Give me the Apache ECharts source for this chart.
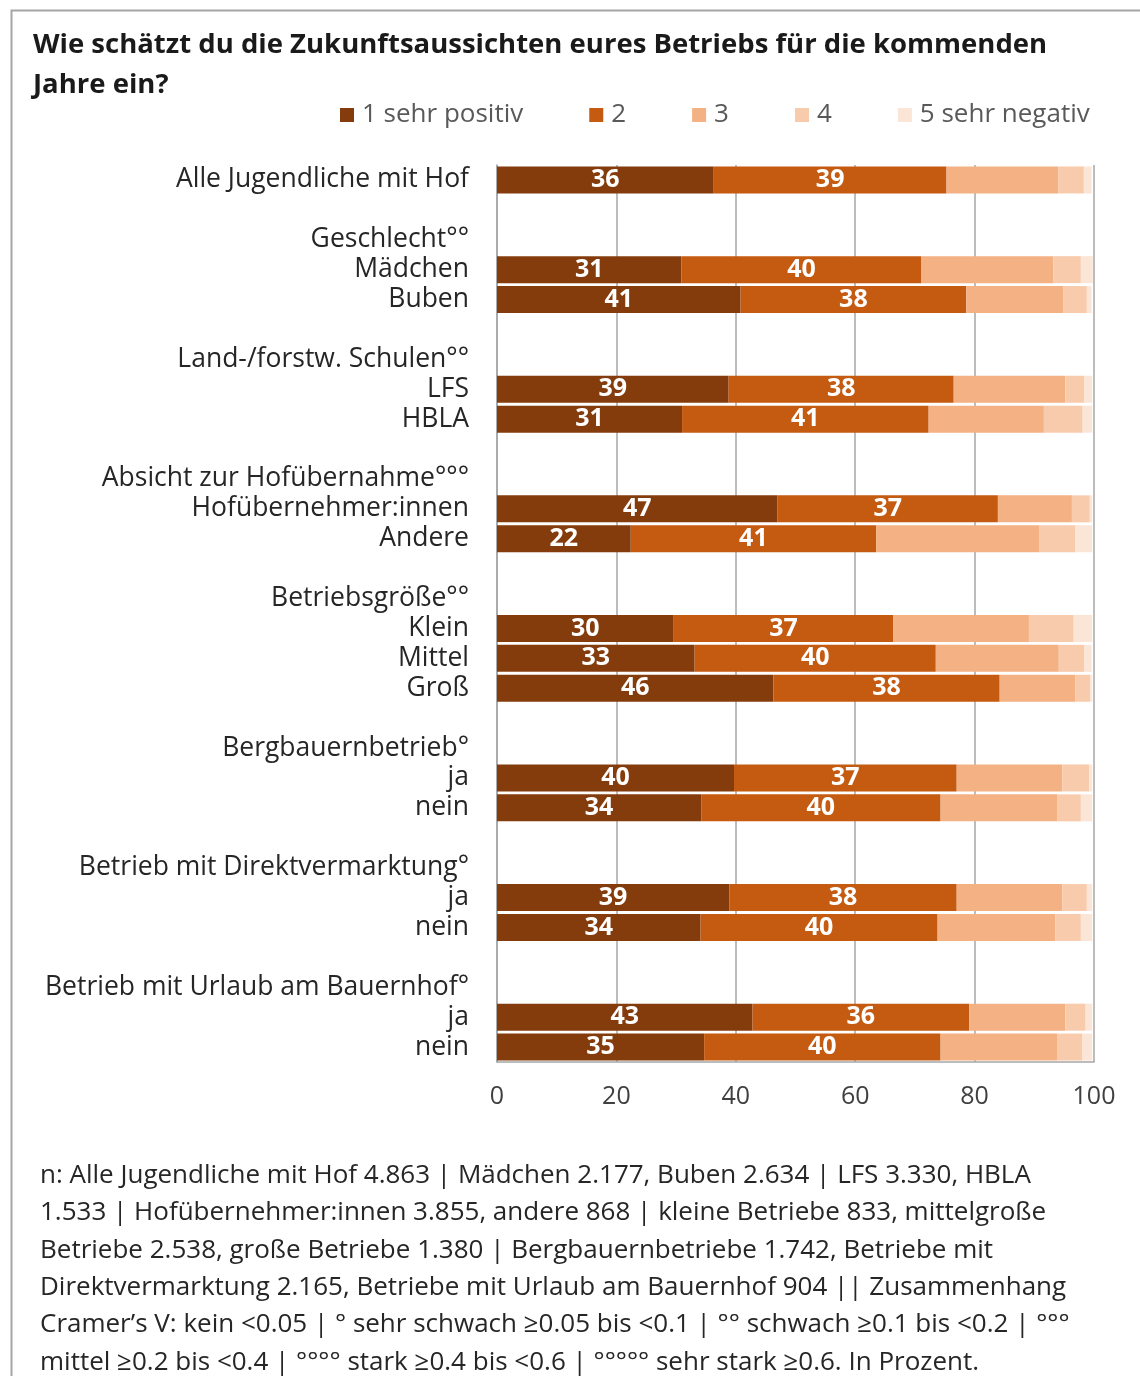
<!DOCTYPE html>
<html>
<head>
<meta charset="utf-8">
<script src="https://cdn.jsdelivr.net/npm/echarts@6/dist/echarts.min.js"></script>
<style>html,body{margin:0;padding:0;background:#fff}#c{width:1140px;height:1376px}</style>
</head>
<body>
<div id="c"></div>
<script>
const categories = ['Alle Jugendliche mit Hof', '', 'Geschlecht°°', 'Mädchen', 'Buben', '', 'Land-/forstw. Schulen°°', 'LFS', 'HBLA', '', 'Absicht zur Hofübernahme°°°', 'Hofübernehmer:innen', 'Andere', '', 'Betriebsgröße°°', 'Klein', 'Mittel', 'Groß', '', 'Bergbauernbetrieb°', 'ja', 'nein', '', 'Betrieb mit Direktvermarktung°', 'ja', 'nein', '', 'Betrieb mit Urlaub am Bauernhof°', 'ja', 'nein'];
const seriesNames = ['1 sehr positiv', '2', '3', '4', '5 sehr negativ'];
const s1 = [36.3, null, null, 30.9, 40.8, null, null, 38.8, 31.0, null, null, 47.0, 22.4, null, null, 29.6, 33.1, 46.3, null, null, 39.7, 34.2, null, null, 38.9, 34.1, null, null, 42.8, 34.7];
const s2 = [39.0, null, null, 40.2, 37.8, null, null, 37.7, 41.3, null, null, 36.9, 41.1, null, null, 36.8, 40.4, 37.9, null, null, 37.3, 40.1, null, null, 38.1, 39.7, null, null, 36.3, 39.6];
const s3 = [18.7, null, null, 22.1, 16.3, null, null, 18.7, 19.3, null, null, 12.4, 27.3, null, null, 22.7, 20.6, 12.7, null, null, 17.7, 19.6, null, null, 17.7, 19.7, null, null, 16.1, 19.5];
const s4 = [4.3, null, null, 4.6, 3.9, null, null, 3.2, 6.5, null, null, 3.0, 6.1, null, null, 7.5, 4.3, 2.5, null, null, 4.5, 3.9, null, null, 4.1, 4.3, null, null, 3.4, 4.2];
const s5 = [1.3, null, null, 2.0, 0.8, null, null, 1.3, 1.6, null, null, 0.4, 2.8, null, null, 3.1, 1.2, 0.3, null, null, 0.5, 1.9, null, null, 0.9, 1.9, null, null, 1.1, 1.7];
const xTicks = [0, 20, 40, 60, 80, 100];
const colors = ['#843C0C', '#C55A11', '#F4B183', '#F8CBAD', '#FBE5D6'];
const titleText = 'Wie schätzt du die Zukunftsaussichten eures Betriebs für die kommenden\nJahre ein?';
const footText = [
  'n: Alle Jugendliche mit Hof 4.863 | Mädchen 2.177, Buben 2.634 | LFS 3.330, HBLA',
  '1.533 | Hofübernehmer:innen 3.855, andere 868 | kleine Betriebe 833, mittelgroße',
  'Betriebe 2.538, große Betriebe 1.380 | Bergbauernbetriebe 1.742, Betriebe mit',
  'Direktvermarktung 2.165, Betriebe mit Urlaub am Bauernhof 904 || Zusammenhang',
  'Cramer’s V: kein <0.05 | ° sehr schwach ≥0.05 bis <0.1 | °° schwach ≥0.1 bis <0.2 | °°°',
  'mittel ≥0.2 bis <0.4 | °°°° stark ≥0.4 bis <0.6 | °°°°° sehr stark ≥0.6. In Prozent.'
].join('\n');

const FONT = '"Open Sans"';
const allData = [s1, s2, s3, s4, s5];
const chart = echarts.init(document.getElementById('c'));
chart.setOption({
  animation: false,
  backgroundColor: '#fff',
  title: [
    { text: titleText, left: 28, top: 20, textStyle: { fontFamily: FONT, fontWeight: 'bold', fontSize: 27.5, lineHeight: 40, color: '#1a1a1a' } },
    { text: footText, left: 35, top: 1152, textStyle: { fontFamily: FONT, fontWeight: 'normal', fontSize: 26, lineHeight: 37.3, color: '#262626' } }
  ],
  legend: {
    left: 335, top: 97, itemWidth: 14, itemHeight: 14, itemGap: 66, icon: 'rect',
    textStyle: { fontFamily: FONT, fontSize: 26, color: '#595959', padding: [0, 0, 0, 3] },
    data: seriesNames
  },
  graphic: [{ type: 'rect', left: 9, top: 8, shape: { width: 1200, height: 1450 }, style: { fill: 'none', stroke: '#A6A6A6', lineWidth: 2 }, silent: true }],
  grid: { left: 497, right: 46, top: 165, bottom: 314, containLabel: false },
  xAxis: {
    type: 'value', min: 0, max: 100, interval: 20,
    axisLine: { show: true, lineStyle: { color: '#A6A6A6', width: 1.5 } },
    axisTick: { show: false },
    splitLine: { show: true, lineStyle: { color: '#A6A6A6', width: 1.5 } },
    axisLabel: { fontFamily: FONT, fontSize: 25, color: '#404040', margin: 22, formatter: v => xTicks.includes(v) ? String(v) : '' }
  },
  yAxis: {
    type: 'category', inverse: true, data: categories,
    axisLine: { show: true, lineStyle: { color: '#A6A6A6', width: 1.5 } },
    axisTick: { show: false },
    axisLabel: { fontFamily: FONT, fontSize: 26.5, color: '#262626', margin: 28, interval: 0, align: 'right', padding: [4, 0, 0, 0] }
  },
  series: seriesNames.map((name, i) => ({
    name, type: 'bar', stack: 'total', data: allData[i], barWidth: 27,
    itemStyle: { color: colors[i] },
    label: i < 2 ? { show: true, position: 'inside', color: '#fff', fontFamily: FONT, fontWeight: 'bold', fontSize: 25, padding: [3, 0, 0, 0], formatter: p => p.value == null ? '' : String(Math.round(p.value)) } : { show: false }
  }))
});
</script>
</body>
</html>
